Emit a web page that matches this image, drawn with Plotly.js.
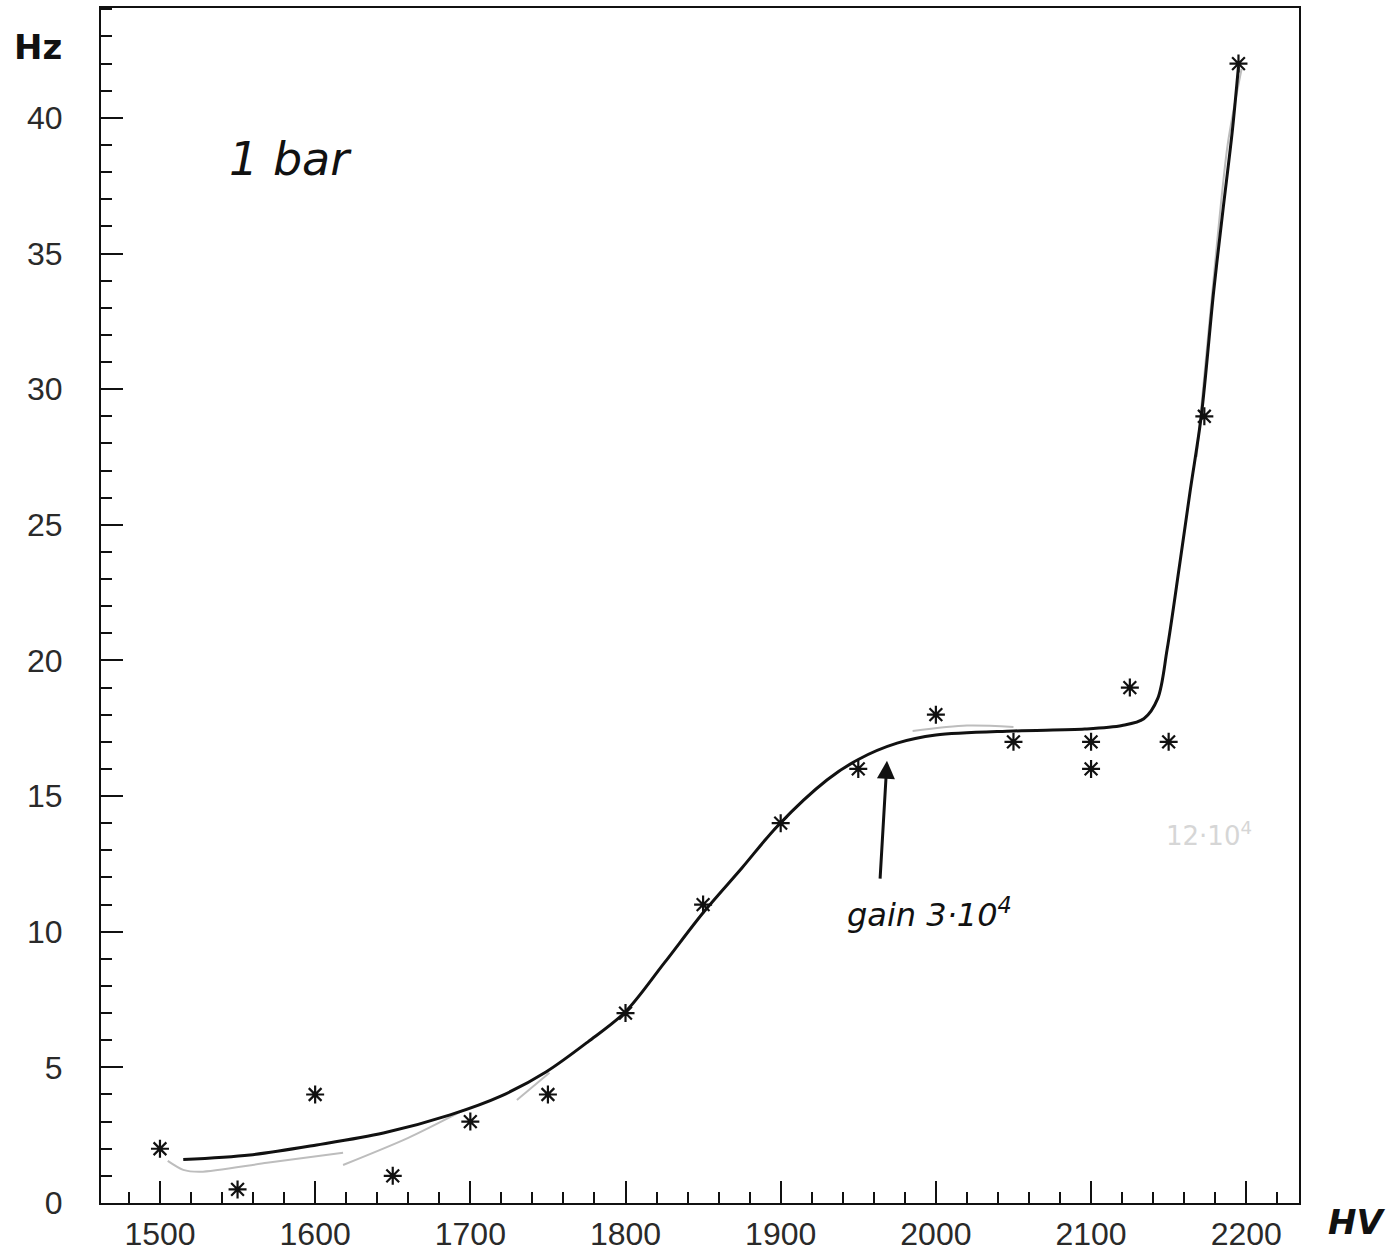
<!DOCTYPE html>
<html>
<head>
<meta charset="utf-8">
<script src="https://cdn.plot.ly/plotly-3.0.1.min.js"></script>
<style>html,body{margin:0;padding:0;background:#fff;}#chart{width:1398px;height:1259px;}</style>
</head>
<body>
<div id="chart"></div>
<script>
// Measured points (asterisks)
var pointsHV = [1500, 1550, 1600, 1650, 1700, 1750, 1800, 1850, 1900, 1950, 2000, 2050, 2100, 2100, 2125, 2150, 2173, 2195];
var pointsHz = [2, 0.5, 4, 1, 3, 4, 7, 11, 14, 16, 18, 17, 17, 16, 19, 17, 29, 42];

// Hand-drawn ink curve
var curveHV = [1515, 1558, 1601, 1644, 1687, 1720, 1749, 1776, 1800, 1825, 1850, 1875, 1898, 1930, 1950, 1975, 2000, 2050, 2096, 2120, 2134, 2143, 2149, 2157, 2164, 2171, 2179, 2185, 2191, 2195];
var curveHz = [1.6, 1.77, 2.14, 2.58, 3.25, 3.95, 4.84, 5.95, 7.05, 8.85, 10.7, 12.35, 13.9, 15.6, 16.35, 16.95, 17.25, 17.4, 17.47, 17.6, 17.85, 18.6, 20.4, 23.5, 26.3, 29.0, 33.6, 36.6, 39.5, 41.9];

// Faint pencil strokes (null = gap)
var pencilHV = [1505, 1515, 1526, 1569, 1618, null, 1618, 1660, 1696, null, 1730, 1751, null, 1985, 2020, 2050, null, 2168, 2178, 2188, 2197];
var pencilHz = [1.55, 1.22, 1.15, 1.48, 1.85, null, 1.4, 2.4, 3.43, null, 3.8, 4.8, null, 17.4, 17.6, 17.55, null, 27.5, 33.5, 39, 41.8];

var axisFont = {family: 'Liberation Sans, Arial, sans-serif', size: 32, color: '#2a2a2a'};

var data = [
  {x: pencilHV, y: pencilHz, mode: 'lines', line: {color: '#bdbdbd', width: 2, shape: 'spline', smoothing: 0.8}, connectgaps: false, hoverinfo: 'skip', showlegend: false},
  {x: curveHV, y: curveHz, mode: 'lines', line: {color: '#111', width: 3, shape: 'spline', smoothing: 0.9}, showlegend: false},
  {x: pointsHV, y: pointsHz, mode: 'markers', marker: {symbol: 'asterisk-open', size: 15, color: '#111', line: {color: '#111', width: 2.2}}, showlegend: false}
];

var layout = {
  width: 1398, height: 1259,
  margin: {l: 101, r: 99, t: 8, b: 56},
  paper_bgcolor: '#fff', plot_bgcolor: '#fff',
  showlegend: false,
  xaxis: {
    range: [1462, 2234], showgrid: false, zeroline: false,
    showline: true, linecolor: '#111', linewidth: 2, mirror: true,
    tickmode: 'linear', tick0: 1500, dtick: 100,
    ticks: 'inside', ticklen: 22, tickwidth: 2, tickcolor: '#111',
    minor: {tickmode: 'linear', tick0: 1500, dtick: 20, ticks: 'inside', ticklen: 11, tickwidth: 2, tickcolor: '#111', showgrid: false},
    tickfont: axisFont, ticklabelstandoff: 2
  },
  yaxis: {
    range: [0, 44.05], showgrid: false, zeroline: false,
    showline: true, linecolor: '#111', linewidth: 2, mirror: true,
    tickmode: 'linear', tick0: 0, dtick: 5,
    ticks: 'inside', ticklen: 22, tickwidth: 2, tickcolor: '#111',
    minor: {tickmode: 'linear', tick0: 0, dtick: 1, ticks: 'inside', ticklen: 11, tickwidth: 2, tickcolor: '#111', showgrid: false},
    tickfont: axisFont, ticklabelstandoff: 30
  },
  annotations: [
    {xref: 'paper', yref: 'paper', x: -0.053, y: 0.967, xanchor: 'center', yanchor: 'middle', text: '<b>Hz</b>', showarrow: false,
     font: {family: 'DejaVu Sans, sans-serif', size: 34, color: '#111'}},
    {xref: 'paper', yref: 'paper', x: 1.048, y: -0.016, xanchor: 'center', yanchor: 'middle', text: '<i><b>HV</b></i>', showarrow: false,
     font: {family: 'DejaVu Sans, sans-serif', size: 34, color: '#111'}},
    {x: 1584, y: 38.5, xanchor: 'center', yanchor: 'middle', text: '<i>1 bar</i>', showarrow: false,
     font: {family: 'DejaVu Sans, sans-serif', size: 46, color: '#111'}},
    {x: 1996, y: 10.7, xanchor: 'center', yanchor: 'middle', text: '<i>gain 3·10<sup>4</sup></i>', showarrow: false,
     font: {family: 'DejaVu Sans, sans-serif', size: 32, color: '#111'}},
    {x: 1968.5, y: 16.3, ax: 1964, ay: 11.9, axref: 'x', ayref: 'y', text: '', showarrow: true,
     arrowhead: 2, arrowsize: 1.2, arrowwidth: 3, arrowcolor: '#111'},
    {x: 2176, y: 13.6, xanchor: 'center', yanchor: 'middle', text: '12·10<sup>4</sup>', showarrow: false,
     font: {family: 'DejaVu Sans, sans-serif', size: 26, color: '#d6d6d6'}}
  ]
};

Plotly.newPlot('chart', data, layout, {displayModeBar: false, staticPlot: true});
</script>
</body>
</html>
